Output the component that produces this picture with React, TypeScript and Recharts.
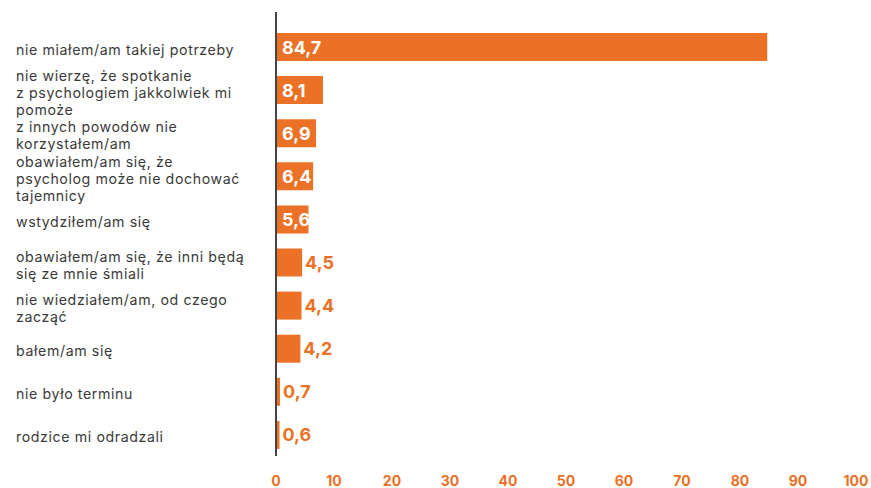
import { Bar, BarChart, LabelList, XAxis, YAxis } from "recharts"

const CATEGORIES = [
  "nie miałem/am takiej potrzeby",
  "nie wierzę, że spotkanie\nz psychologiem jakkolwiek mi\npomoże",
  "z innych powodów nie\nkorzystałem/am",
  "obawiałem/am się, że\npsycholog może nie dochować\ntajemnicy",
  "wstydziłem/am się",
  "obawiałem/am się, że inni będą\nsię ze mnie śmiali",
  "nie wiedziałem/am, od czego\nzacząć",
  "bałem/am się",
  "nie było terminu",
  "rodzice mi odradzali",
]

const VALUES = [84.7, 8.1, 6.9, 6.4, 5.6, 4.5, 4.4, 4.2, 0.7, 0.6]

const X_TICKS = [0, 10, 20, 30, 40, 50, 60, 70, 80, 90, 100]

const ORANGE = "#ea7125"
const FONT = "Inter, 'Noto Sans', sans-serif"

const data = CATEGORIES.map((name, i) => ({ name, value: VALUES[i] }))

const fmt = (v: number) => v.toFixed(1).replace(".", ",")

// left-aligned, multi-line category labels
function CategoryTick(props: any) {
  const { y, payload } = props
  const lines = String(payload.value).split("\n")
  const lineH = 17.1
  const startY = y - ((lines.length - 1) * lineH) / 2 + 2
  return (
    <text
      x={16}
      y={startY}
      fill="#3a3a3a"
      fontSize={14.2}
      letterSpacing={0.6}
      fontFamily={FONT}
      dominantBaseline="central"
    >
      {lines.map((line, i) => (
        <tspan key={i} x={16} dy={i === 0 ? 0 : lineH}>
          {line}
        </tspan>
      ))}
    </text>
  )
}

function ValueLabel(props: any) {
  const { x, y, width, height, value } = props
  const inside = value >= 5
  return (
    <text
      x={inside ? x + 6 : x + width + 3}
      y={y + height / 2}
      fill={inside ? "#ffffff" : ORANGE}
      fontSize={18}
      fontWeight={700}
      fontFamily={FONT}
      dominantBaseline="central"
    >
      {fmt(value)}
    </text>
  )
}

export default function App() {
  return (
    <div style={{ width: 871, height: 488 }}>
      <style>{`body { margin: 0; }`}</style>
      <BarChart
        width={871}
        height={488}
        data={data}
        layout="vertical"
        margin={{ top: 12, right: 15, left: 0, bottom: 0 }}
      >
        <XAxis
          type="number"
          domain={[0, 100]}
          ticks={X_TICKS}
          interval={0}
          axisLine={false}
          tickLine={false}
          height={32}
          tickMargin={14}
          tick={{ fill: ORANGE, fontSize: 14, fontWeight: 700, fontFamily: FONT }}
        />
        <YAxis
          type="category"
          dataKey="name"
          width={276}
          padding={{ top: 13, bottom: 0 }}
          axisLine={{ stroke: "#444444", strokeWidth: 2 }}
          tickLine={false}
          interval={0}
          tick={<CategoryTick />}
        />
        <Bar dataKey="value" fill={ORANGE} barSize={28} isAnimationActive={false}>
          <LabelList dataKey="value" content={<ValueLabel />} />
        </Bar>
      </BarChart>
    </div>
  )
}
